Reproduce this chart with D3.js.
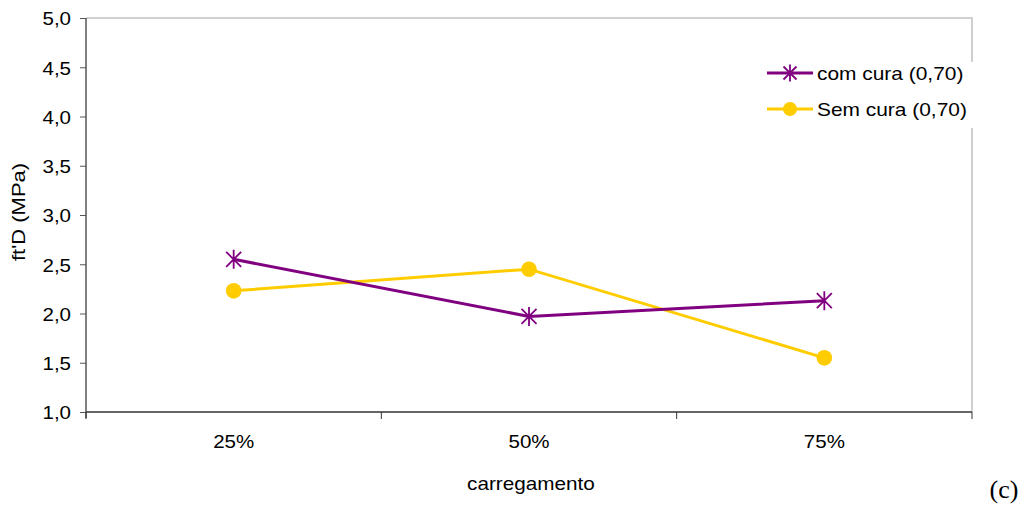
<!DOCTYPE html>
<html><head><meta charset="utf-8">
<script src="https://cdn.jsdelivr.net/npm/d3@7"></script>
<style>body{margin:0;background:#fff}svg{display:block}</style>
</head><body><svg id="c" width="1032" height="510"></svg>
<script>
const categories = ["25%", "50%", "75%"];
const comCura = [2.55, 1.97, 2.13];
const semCura = [2.23, 2.45, 1.55];
const yTicks = [1.0, 1.5, 2.0, 2.5, 3.0, 3.5, 4.0, 4.5, 5.0];
const seriesNames = ["com cura (0,70)", "Sem cura (0,70)"];

const SANS = "'Liberation Sans',Arial,sans-serif";
const svg = d3.select("#c");
const L = 86, R = 972, T = 18, B = 412;
const x = d3.scaleBand().domain(categories).range([L, R]);
const y = d3.scaleLinear().domain([1, 5]).range([B, T]);

function widen(sel, k) {
  sel.each(function() {
    const w = this.getComputedTextLength();
    d3.select(this).attr("textLength", w * k).attr("lengthAdjust", "spacingAndGlyphs");
  });
}

svg.append("path").attr("d", `M${L},${T}H${R}V${B}`).attr("fill","none").attr("stroke","#d0d0d0").attr("stroke-width",2);

const fmt = d => d.toFixed(1).replace(".", ",");
const yAx = svg.append("g").attr("transform", `translate(${L},0)`)
  .call(d3.axisLeft(y).tickValues(yTicks).tickFormat(fmt).tickSize(6).tickPadding(9));
yAx.select(".domain").attr("stroke","#000").attr("d", `M0,${T}V${B+6}`);
yAx.selectAll("line").attr("stroke","#555");
yAx.selectAll("text").attr("font-size","19px").attr("font-family",SANS).attr("fill","#000").attr("dy","0.36em");
widen(yAx.selectAll("text"), 1.08);

const xAx = svg.append("g").attr("transform", `translate(0,${B})`)
  .call(d3.axisBottom(x).tickSize(0).tickPadding(23));
xAx.select(".domain").attr("stroke","#333").attr("stroke-width",1.5).attr("d", `M${L},0H${R}`);
xAx.selectAll("text").attr("font-size","19px").attr("font-family",SANS).attr("fill","#000");
widen(xAx.selectAll("text"), 1.08);
const bounds = categories.map(c => x(c)).concat([R]);
svg.append("g").selectAll("line").data(bounds).join("line")
  .attr("x1", d => d).attr("x2", d => d).attr("y1", B).attr("y2", B + 7)
  .attr("stroke", "#333").attr("stroke-width", 1);

const cx = c => x(c) + x.bandwidth() / 2;
const line = d3.line().x((d, i) => cx(categories[i])).y(d => y(d));

const purple = "#800080", yellow = "#FFCC00";
svg.append("path").datum(semCura).attr("d", line).attr("fill","none").attr("stroke",yellow).attr("stroke-width",3);
svg.append("path").datum(comCura).attr("d", line).attr("fill","none").attr("stroke",purple).attr("stroke-width",3);

function star(g, px, py, r) {
  const p = `M${px-r},${py-r}L${px+r},${py+r}M${px-r},${py+r}L${px+r},${py-r}M${px},${py-r-2}V${py+r+2}`;
  g.append("path").attr("d", p).attr("stroke", purple).attr("stroke-width", 1.8).attr("fill","none");
}
const gm = svg.append("g");
semCura.forEach((v, i) => gm.append("circle").attr("cx", cx(categories[i])).attr("cy", y(v)).attr("r", 7.8).attr("fill", yellow));
comCura.forEach((v, i) => star(gm, cx(categories[i]), y(v), 7.5));

const lg = svg.append("g");
lg.append("rect").attr("x", 758).attr("y", 62).attr("width", 222).attr("height", 66).attr("fill","#fff");
lg.append("line").attr("x1",767).attr("x2",813).attr("y1",73).attr("y2",73).attr("stroke",purple).attr("stroke-width",3);
star(lg, 790, 73, 6.5);
lg.append("text").attr("x",817).attr("y",80).attr("font-size","19px").attr("font-family",SANS).text(seriesNames[0]);
lg.append("line").attr("x1",767).attr("x2",813).attr("y1",109).attr("y2",109).attr("stroke",yellow).attr("stroke-width",3);
lg.append("circle").attr("cx",790).attr("cy",109).attr("r",7).attr("fill",yellow);
lg.append("text").attr("x",817).attr("y",116).attr("font-size","19px").attr("font-family",SANS).text(seriesNames[1]);
widen(lg.selectAll("text"), 1.1);

const yl = svg.append("text").attr("transform","translate(25,212) rotate(-90)").attr("text-anchor","middle").attr("font-size","18px").attr("font-family",SANS).text("ft'D (MPa)");
widen(yl, 1.22);
const xl = svg.append("text").attr("x",531).attr("y",490).attr("text-anchor","middle").attr("font-size","19px").attr("font-family",SANS).text("carregamento");
widen(xl, 1.09);

svg.append("text").attr("x",1004).attr("y",498).attr("text-anchor","middle").attr("font-size","26px").attr("font-family","'Liberation Serif','Times New Roman',serif").text("(c)");
</script></body></html>
